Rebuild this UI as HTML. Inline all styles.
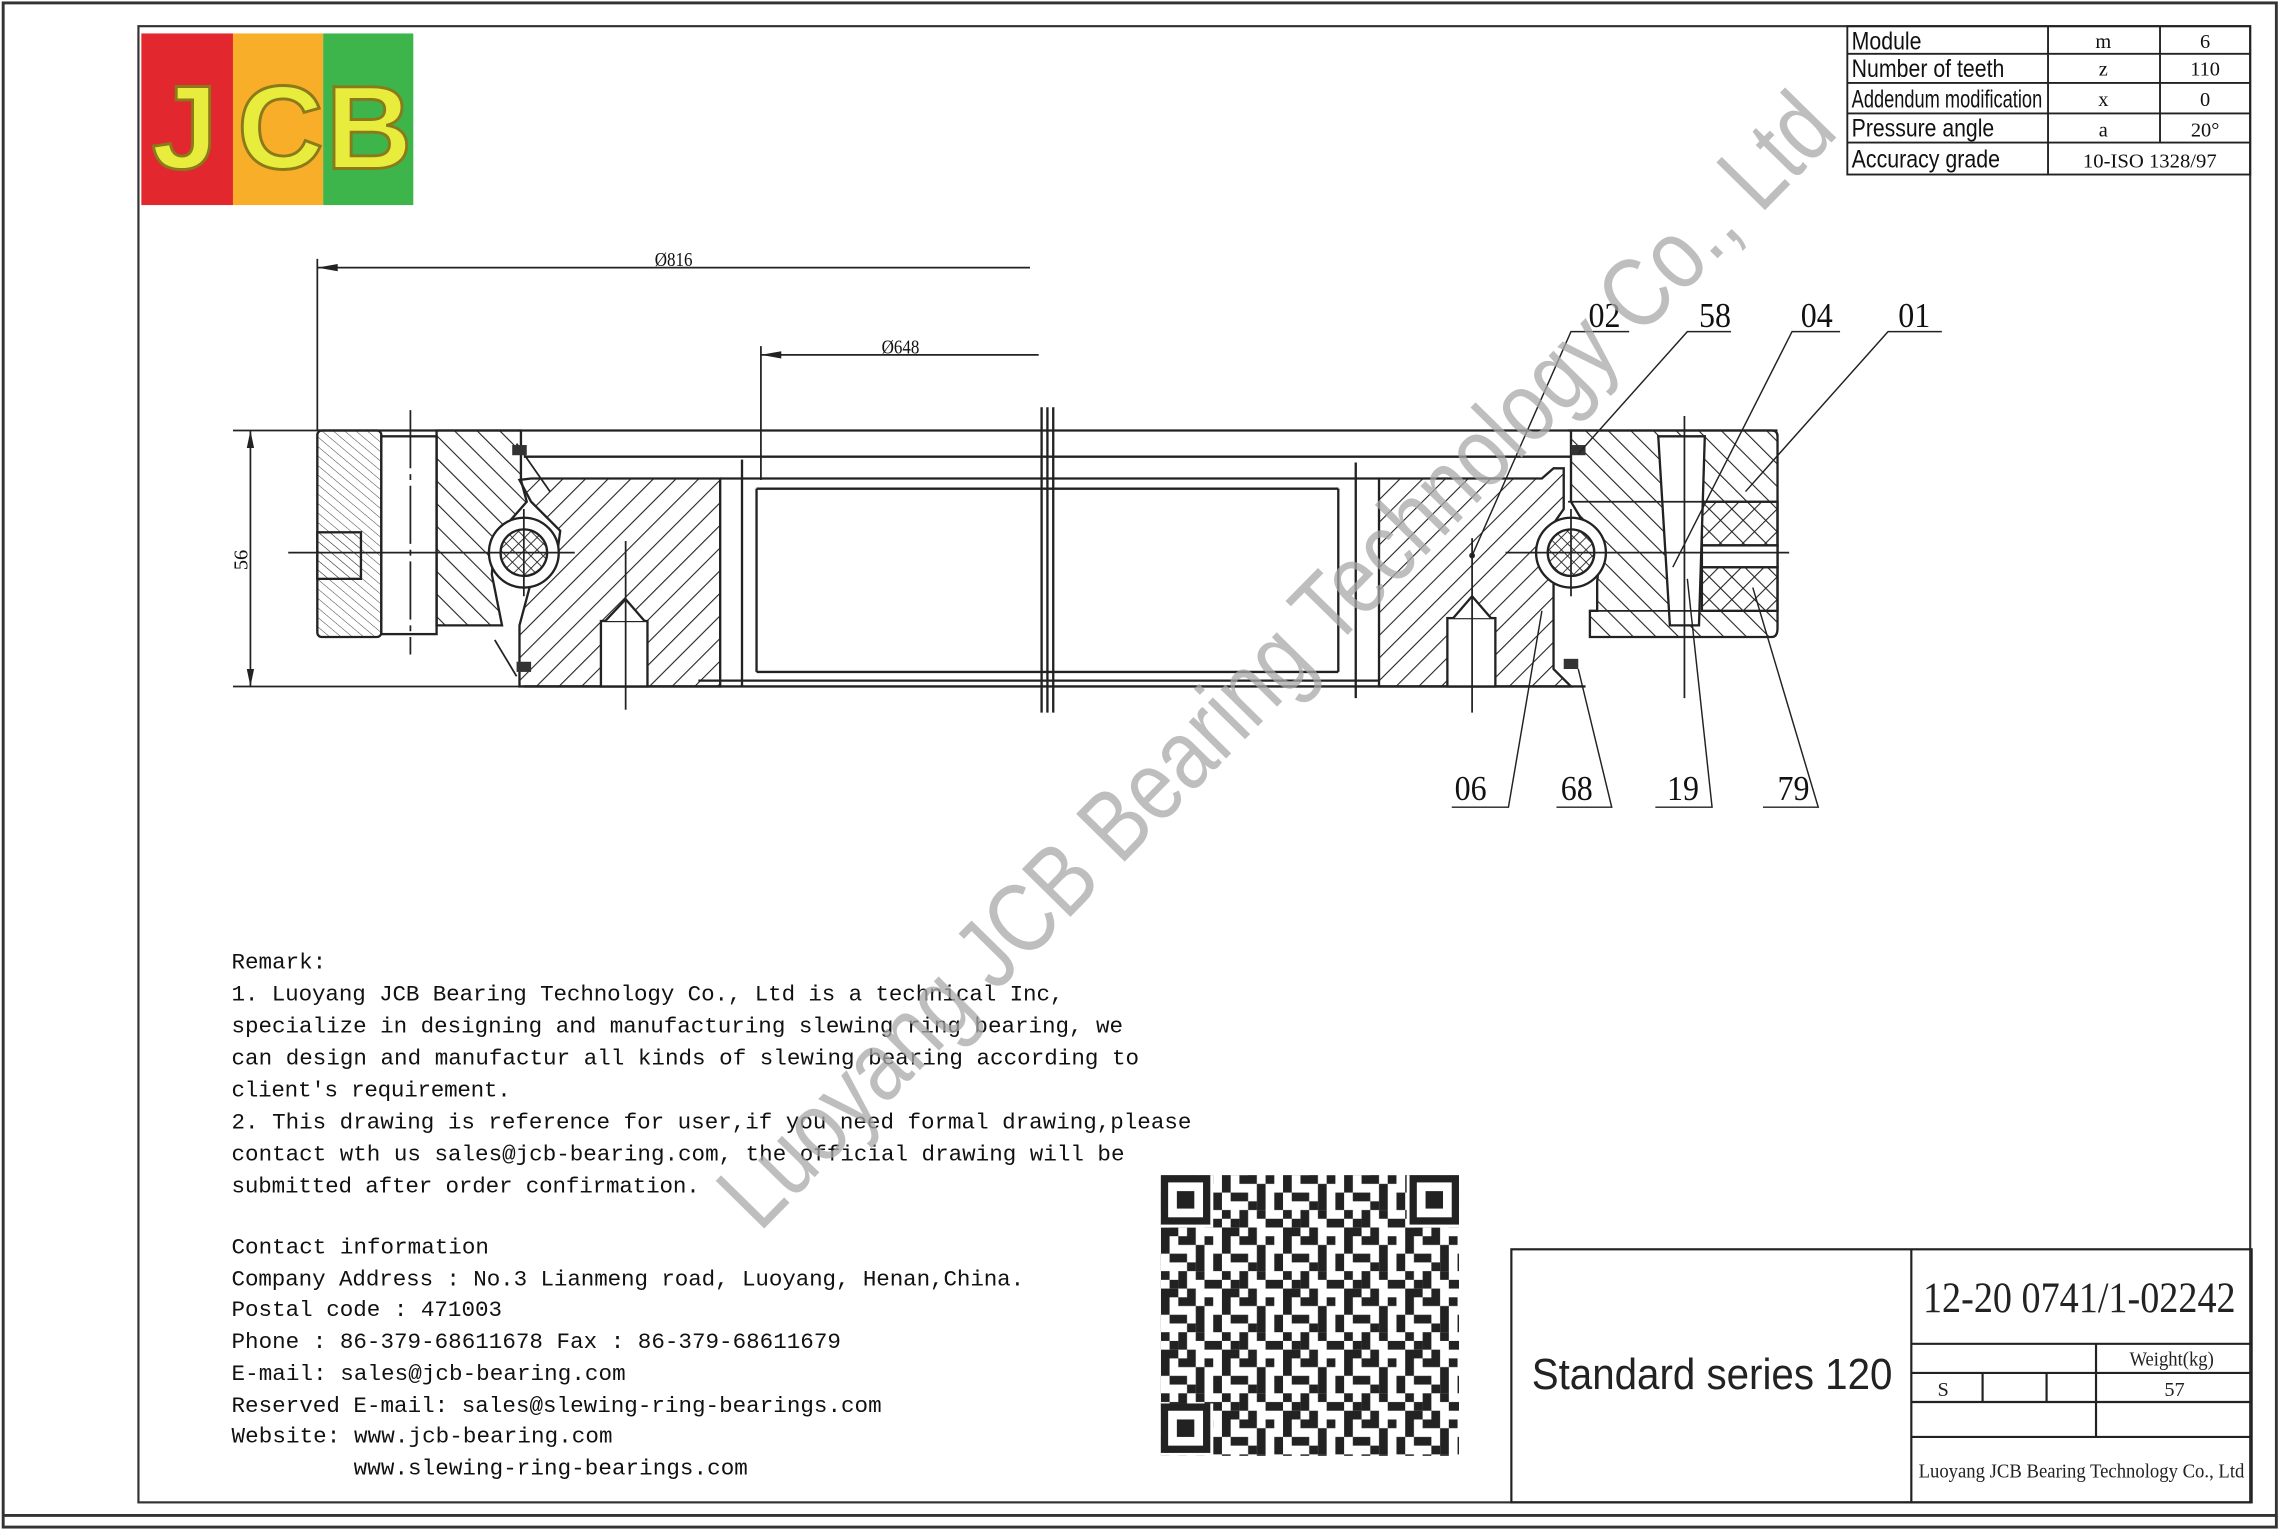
<!DOCTYPE html>
<html><head><meta charset="utf-8"><style>
html,body{margin:0;padding:0;background:#fff;}
svg{display:block;}
</style></head><body>
<svg width="2281" height="1530" viewBox="0 0 1568 1052" xmlns="http://www.w3.org/2000/svg">
<defs>
<pattern id="hA" width="11" height="11" patternUnits="userSpaceOnUse" patternTransform="rotate(45)"><line x1="0" y1="0" x2="0" y2="11" stroke="#222" stroke-width="1.5"/></pattern>
<pattern id="hB" width="11" height="11" patternUnits="userSpaceOnUse" patternTransform="rotate(-45)"><line x1="0" y1="0" x2="0" y2="11" stroke="#222" stroke-width="1.5"/></pattern>
<pattern id="hC" width="5" height="5" patternUnits="userSpaceOnUse" patternTransform="rotate(-50)"><line x1="0" y1="0" x2="0" y2="5" stroke="#444" stroke-width="0.7"/></pattern>
<pattern id="hD" width="6" height="6" patternUnits="userSpaceOnUse" patternTransform="rotate(45)"><line x1="0" y1="0" x2="0" y2="6" stroke="#222" stroke-width="1.2"/><line x1="0" y1="0" x2="6" y2="0" stroke="#222" stroke-width="1.2"/></pattern>
<pattern id="qr" width="42" height="42" patternUnits="userSpaceOnUse" x="798" y="808">
<rect x="0" y="0" width="6" height="12" fill="#222"/><rect x="12" y="0" width="12" height="6" fill="#222"/><rect x="30" y="0" width="6" height="6" fill="#222"/>
<rect x="6" y="12" width="12" height="6" fill="#222"/><rect x="24" y="6" width="6" height="18" fill="#222"/><rect x="36" y="12" width="6" height="12" fill="#222"/>
<rect x="0" y="24" width="6" height="6" fill="#222"/><rect x="12" y="24" width="6" height="12" fill="#222"/><rect x="30" y="30" width="12" height="6" fill="#222"/>
<rect x="0" y="36" width="12" height="6" fill="#222"/><rect x="18" y="36" width="6" height="6" fill="#222"/><rect x="24" y="24" width="6" height="6" fill="#222"/>
<rect x="18" y="18" width="6" height="6" fill="#222"/><rect x="6" y="30" width="6" height="6" fill="#222"/>
</pattern>
</defs>

<rect x="2" y="2" width="1563" height="1048" fill="none" stroke="#333" stroke-width="2"/>
<line x1="2" y1="1042" x2="1565" y2="1042" stroke="#333" stroke-width="2"/>
<rect x="95" y="18" width="1452" height="1015" fill="none" stroke="#333" stroke-width="1.5"/>

<rect x="97" y="23" width="63" height="118" fill="#e2272e"/>
<rect x="160" y="23" width="62" height="118" fill="#f9ae2a"/>
<rect x="222" y="23" width="62" height="118" fill="#3db54a"/>
<g font-family="Liberation Sans, sans-serif" font-weight="bold" font-size="82" fill="#e8ec3c" stroke="#8a7a1a" stroke-width="2">
<text x="104" y="116">J</text><text x="163" y="116">C</text><text x="224" y="116">B</text>
</g>

<g stroke="#222" stroke-width="1.3" fill="none">
<rect x="1270" y="18" width="277" height="102"/>
<line x1="1270" y1="37" x2="1547" y2="37"/><line x1="1270" y1="57" x2="1547" y2="57"/>
<line x1="1270" y1="78" x2="1547" y2="78"/><line x1="1270" y1="98" x2="1547" y2="98"/>
<line x1="1408" y1="18" x2="1408" y2="120"/><line x1="1485" y1="18" x2="1485" y2="98"/>
</g>
<g font-family="Liberation Sans, sans-serif" font-size="17" fill="#111">
<text x="1273" y="34" textLength="48" lengthAdjust="spacingAndGlyphs">Module</text>
<text x="1273" y="53" textLength="105" lengthAdjust="spacingAndGlyphs">Number of teeth</text>
<text x="1273" y="74" textLength="131" lengthAdjust="spacingAndGlyphs">Addendum modification</text>
<text x="1273" y="94" textLength="98" lengthAdjust="spacingAndGlyphs">Pressure angle</text>
<text x="1273" y="115" textLength="102" lengthAdjust="spacingAndGlyphs">Accuracy grade</text>
</g>
<g font-family="Liberation Serif, serif" font-size="14" fill="#111" text-anchor="middle">
<text x="1446" y="33">m</text><text x="1516" y="33">6</text>
<text x="1446" y="52">z</text><text x="1516" y="52">110</text>
<text x="1446" y="73">x</text><text x="1516" y="73">0</text>
<text x="1446" y="94">a</text><text x="1516" y="94">20°</text>
<text x="1478" y="115" textLength="92" lengthAdjust="spacingAndGlyphs">10-ISO 1328/97</text>
</g>

<g stroke="#222" stroke-width="1.2" fill="none">
<line x1="218" y1="178" x2="218" y2="296"/>
<line x1="218" y1="184" x2="708" y2="184"/>
<line x1="523" y1="238" x2="523" y2="330"/>
<line x1="523" y1="244" x2="714" y2="244"/>
<line x1="160" y1="296" x2="218" y2="296"/><line x1="160" y1="472" x2="360" y2="472"/>
<line x1="172" y1="296" x2="172" y2="472"/>
</g>
<polygon points="218,184 232,181.5 232,186.5" fill="#222"/>
<polygon points="523,244 537,241.5 537,246.5" fill="#222"/>
<polygon points="172,296 169.5,308 174.5,308" fill="#222"/>
<polygon points="172,472 169.5,460 174.5,460" fill="#222"/>
<g font-family="Liberation Serif, serif" font-size="14" fill="#111">
<text x="450" y="183" textLength="26" lengthAdjust="spacingAndGlyphs">Ø816</text>
<text x="606" y="243" textLength="26" lengthAdjust="spacingAndGlyphs">Ø648</text>
<text transform="translate(170,392) rotate(-90)" textLength="14">56</text>
</g>

<g stroke="#222" stroke-width="1.6" fill="none">
<line x1="218" y1="296" x2="1222" y2="296"/>
<line x1="360" y1="314" x2="1080" y2="314"/>
<line x1="495" y1="329" x2="948" y2="329"/>
<line x1="520" y1="336" x2="920" y2="336"/>
<line x1="520" y1="462" x2="920" y2="462"/>
<line x1="480" y1="468" x2="948" y2="468"/>
<line x1="360" y1="472" x2="1090" y2="472"/>
<line x1="510" y1="316" x2="510" y2="472"/>
<line x1="932" y1="318" x2="932" y2="480"/>
<line x1="520" y1="336" x2="520" y2="462"/>
<line x1="920" y1="336" x2="920" y2="462"/>
<line x1="716" y1="280" x2="716" y2="490"/><line x1="720" y1="280" x2="720" y2="490"/><line x1="724" y1="280" x2="724" y2="490"/>
</g>

<g stroke="#222" stroke-width="1.6">
<rect x="218" y="296" width="44" height="142" rx="3" fill="url(#hC)"/>
<rect x="218" y="366" width="30" height="32" fill="url(#hC)"/>
<rect x="262" y="300" width="38" height="136" fill="#fff"/>
<path d="M300,296 H358 V330 L362,345 L340,370 L338,395 L345,430 H300 Z" fill="url(#hB)"/>
<path d="M357,330 L365,329 H495 V472 H357 V430 L365,400 L382,388 L385,365 L365,345 Z" fill="url(#hA)"/>
<rect x="413" y="427" width="32" height="45" fill="#fff"/>
<path d="M416,427 L430,412 L443,427" fill="#fff"/>
<circle cx="360" cy="380" r="24" fill="#fff"/>
<circle cx="360" cy="380" r="16" fill="url(#hD)"/>
</g>
<g stroke="#222" stroke-width="1.2" fill="none">
<line x1="282" y1="282" x2="282" y2="450" stroke-dasharray="40,4,4,4"/>
<line x1="430" y1="372" x2="430" y2="488"/>
<line x1="198" y1="380" x2="395" y2="380"/>
<line x1="360" y1="350" x2="360" y2="410"/>
<path d="M355,305 L378,338 M355,465 L340,440"/>
</g>
<rect x="352" y="306" width="10" height="7" fill="#333"/>
<rect x="355" y="455" width="10" height="7" fill="#333"/>

<g stroke="#222" stroke-width="1.6">
<path d="M948,329 H1060 L1068,322 H1075 V350 L1068,360 L1062,375 L1068,400 V460 L1080,472 H948 Z" fill="url(#hA)"/>
<rect x="995" y="425" width="33" height="47" fill="#fff"/>
<path d="M999,425 L1012,410 L1025,425" fill="#fff"/>
<path d="M1078,296 H1218 Q1222,296 1222,300 V432 Q1222,438 1218,438 H1093 L1093,420 L1098,420 V400 L1100,380 L1092,365 L1080,345 V296 Z" fill="url(#hB)"/>
<rect x="1170" y="345" width="52" height="30" fill="url(#hA)"/>
<rect x="1170" y="390" width="52" height="30" fill="url(#hA)"/>
<rect x="1170" y="375" width="52" height="15" fill="#fff"/>
<path d="M1140,300 H1172 L1168,430 H1148 Z" fill="#fff"/>
<circle cx="1080" cy="380" r="24" fill="#fff"/>
<circle cx="1080" cy="380" r="16" fill="url(#hD)"/>
</g>
<g stroke="#222" stroke-width="1.2" fill="none">
<line x1="1012" y1="370" x2="1012" y2="490"/>
<line x1="1158" y1="286" x2="1158" y2="480"/>
<line x1="1035" y1="380" x2="1230" y2="380"/>
<line x1="1080" y1="350" x2="1080" y2="410"/>
<line x1="1078" y1="345" x2="1222" y2="345"/>
<line x1="1093" y1="420" x2="1222" y2="420"/>
</g>
<rect x="1080" y="306" width="10" height="7" fill="#333"/>
<rect x="1075" y="453" width="10" height="7" fill="#333"/>

<g stroke="#222" stroke-width="1" fill="none">
<path d="M1120,228 H1080 L1012,382"/><circle cx="1012" cy="382" r="1.5" fill="#222"/>
<path d="M1190,228 H1160 L1085,312"/>
<path d="M1265,228 H1232 L1150,390"/>
<path d="M1335,228 H1298 L1200,338"/>
<path d="M998,555 H1037 L1060,420"/>
<path d="M1070,555 H1108 L1085,460"/>
<path d="M1138,555 H1177 L1160,398"/>
<path d="M1212,555 H1250 L1205,404"/>
</g>
<g font-family="Liberation Serif, serif" font-size="24" fill="#111">
<text x="1092" y="225" textLength="22" lengthAdjust="spacingAndGlyphs">02</text>
<text x="1168" y="225" textLength="22" lengthAdjust="spacingAndGlyphs">58</text>
<text x="1238" y="225" textLength="22" lengthAdjust="spacingAndGlyphs">04</text>
<text x="1305" y="225" textLength="22" lengthAdjust="spacingAndGlyphs">01</text>
<text x="1000" y="550" textLength="22" lengthAdjust="spacingAndGlyphs">06</text>
<text x="1073" y="550" textLength="22" lengthAdjust="spacingAndGlyphs">68</text>
<text x="1146" y="550" textLength="22" lengthAdjust="spacingAndGlyphs">19</text>
<text x="1222" y="550" textLength="22" lengthAdjust="spacingAndGlyphs">79</text>
</g>

<g font-family="Liberation Mono, monospace" font-size="15.5" fill="#111">
<text x="159" y="666">Remark:</text>
<text x="159" y="688" textLength="572">1. Luoyang JCB Bearing Technology Co., Ltd is a technical Inc,</text>
<text x="159" y="710" textLength="613">specialize in designing and manufacturing slewing ring bearing, we</text>
<text x="159" y="732" textLength="624">can design and manufactur all kinds of slewing bearing according to</text>
<text x="159" y="754" textLength="192">client's requirement.</text>
<text x="159" y="776" textLength="660">2. This drawing is reference for user,if you need formal drawing,please</text>
<text x="159" y="798" textLength="614">contact wth us sales@jcb-bearing.com, the official drawing will be</text>
<text x="159" y="820" textLength="322">submitted after order confirmation.</text>
<text x="159" y="862" textLength="177">Contact information</text>
<text x="159" y="884" textLength="545">Company Address : No.3 Lianmeng road, Luoyang, Henan,China.</text>
<text x="159" y="905" textLength="186">Postal code : 471003</text>
<text x="159" y="927" textLength="419">Phone : 86-379-68611678 Fax : 86-379-68611679</text>
<text x="159" y="949" textLength="271">E-mail: sales@jcb-bearing.com</text>
<text x="159" y="971" textLength="447">Reserved E-mail: sales@slewing-ring-bearings.com</text>
<text x="159" y="992" textLength="262">Website: www.jcb-bearing.com</text>
<text x="243" y="1014" textLength="271">www.slewing-ring-bearings.com</text>
</g>

<rect x="798" y="808" width="205" height="193" fill="url(#qr)"/>
<g fill="#fff">
<rect x="798" y="808" width="36" height="36"/><rect x="967" y="808" width="36" height="36"/><rect x="798" y="965" width="36" height="36"/>
</g>
<g fill="none" stroke="#222" stroke-width="5">
<rect x="800.5" y="810.5" width="29" height="29"/><rect x="971.5" y="810.5" width="29" height="29"/><rect x="800.5" y="967.5" width="29" height="29"/>
</g>
<g fill="#222"><rect x="809" y="819" width="12" height="12"/><rect x="980" y="819" width="12" height="12"/><rect x="809" y="976" width="12" height="12"/></g>

<g stroke="#222" stroke-width="1.5" fill="none">
<rect x="1039" y="859" width="509" height="174"/>
<line x1="1314" y1="859" x2="1314" y2="1033"/>
<line x1="1314" y1="924" x2="1548" y2="924"/>
<line x1="1314" y1="944" x2="1548" y2="944"/>
<line x1="1314" y1="964" x2="1548" y2="964"/>
<line x1="1314" y1="988" x2="1548" y2="988"/>
<line x1="1441" y1="924" x2="1441" y2="988"/>
<line x1="1363" y1="944" x2="1363" y2="964"/>
<line x1="1407" y1="944" x2="1407" y2="964"/>
</g>
<text x="1053" y="955" font-family="Liberation Sans, sans-serif" font-size="30" fill="#222" textLength="248" lengthAdjust="spacingAndGlyphs">Standard series 120</text>
<text x="1322" y="902" font-family="Liberation Serif, serif" font-size="30" fill="#222" textLength="215" lengthAdjust="spacingAndGlyphs">12-20 0741/1-02242</text>
<g font-family="Liberation Serif, serif" font-size="14" fill="#222">
<text x="1464" y="939" textLength="58" lengthAdjust="spacingAndGlyphs">Weight(kg)</text>
<text x="1332" y="960">S</text>
<text x="1488" y="960">57</text>
<text x="1319" y="1016" textLength="224" lengthAdjust="spacingAndGlyphs">Luoyang JCB Bearing Technology Co., Ltd</text>
</g>

<text transform="translate(522,848) rotate(-45.5)" font-family="Liberation Sans, sans-serif" font-size="68" fill="#a8a8a8" fill-opacity="0.75" textLength="1060" lengthAdjust="spacingAndGlyphs">Luoyang JCB Bearing Technology Co., Ltd</text>
</svg>
</body></html>
